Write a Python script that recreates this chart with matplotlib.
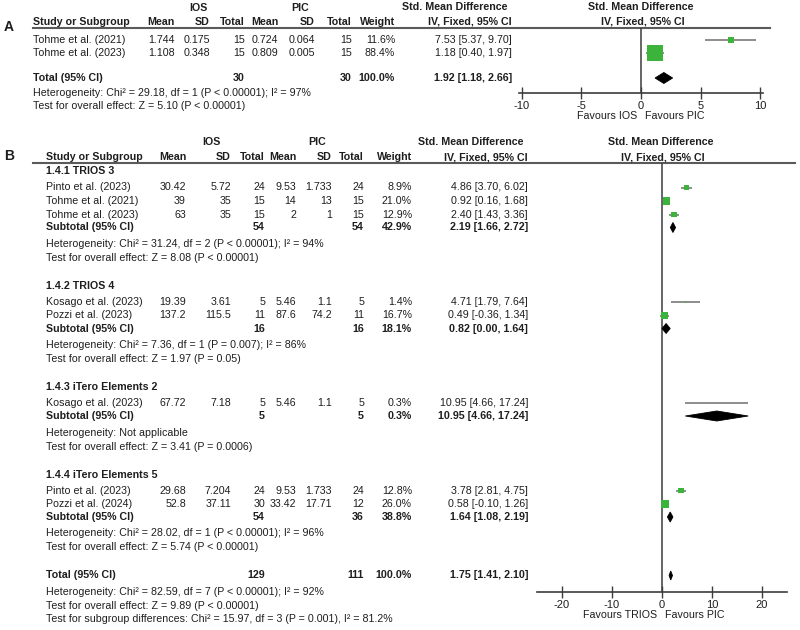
import matplotlib
matplotlib.use("Agg")
import matplotlib.pyplot as plt
from matplotlib.patches import Polygon

plt.rcParams['font.family'] = ['Liberation Sans', 'DejaVu Sans']
plt.rcParams['axes.unicode_minus'] = False

# --- Panel A data ---
a_study = ["Tohme et al. (2021)", "Tohme et al. (2023)"]
a_ios_mean = [1.744, 1.108]
a_ios_sd = [0.175, 0.348]
a_ios_n = [15, 15]
a_pic_mean = [0.724, 0.809]
a_pic_sd = [0.064, 0.005]
a_pic_n = [15, 15]
a_weight = [11.6, 88.4]
a_smd = [7.53, 1.18]
a_lo = [5.37, 0.40]
a_hi = [9.70, 1.97]
a_total_n = [30, 30]
a_total_ci = [1.92, 1.18, 2.66]
a_het = "Heterogeneity: Chi² = 29.18, df = 1 (P < 0.00001); I² = 97%"
a_test = "Test for overall effect: Z = 5.10 (P < 0.00001)"
a_ticks = [-10, -5, 0, 5, 10]
a_favours = ["Favours IOS", "Favours PIC"]

# --- Panel B data ---
b_groups = ["1.4.1 TRIOS 3", "1.4.2 TRIOS 4", "1.4.3 iTero Elements 2", "1.4.4 iTero Elements 5"]
b_study = ["Pinto et al. (2023)", "Tohme et al. (2021)", "Tohme et al. (2023)",
           "Kosago et al. (2023)", "Pozzi et al. (2023)",
           "Kosago et al. (2023)",
           "Pinto et al. (2023)", "Pozzi et al. (2024)"]
b_group_of = [0, 0, 0, 1, 1, 2, 3, 3]
b_ios_mean = [30.42, 39, 63, 19.39, 137.2, 67.72, 29.68, 52.8]
b_ios_sd = [5.72, 35, 35, 3.61, 115.5, 7.18, 7.204, 37.11]
b_ios_n = [24, 15, 15, 5, 11, 5, 24, 30]
b_pic_mean = [9.53, 14, 2, 5.46, 87.6, 5.46, 9.53, 33.42]
b_pic_sd = [1.733, 13, 1, 1.1, 74.2, 1.1, 1.733, 17.71]
b_pic_n = [24, 15, 15, 5, 11, 5, 24, 12]
b_weight = [8.9, 21.0, 12.9, 1.4, 16.7, 0.3, 12.8, 26.0]
b_smd = [4.86, 0.92, 2.40, 4.71, 0.49, 10.95, 3.78, 0.58]
b_lo = [3.70, 0.16, 1.43, 1.79, -0.36, 4.66, 2.81, -0.10]
b_hi = [6.02, 1.68, 3.36, 7.64, 1.34, 17.24, 4.75, 1.26]

sub_ios_n = [54, 16, 5, 54]
sub_pic_n = [54, 16, 5, 36]
sub_weight = [42.9, 18.1, 0.3, 38.8]
sub_smd = [2.19, 0.82, 10.95, 1.64]
sub_lo = [1.66, 0.00, 4.66, 1.08]
sub_hi = [2.72, 1.64, 17.24, 2.19]
sub_het = ["Heterogeneity: Chi² = 31.24, df = 2 (P < 0.00001); I² = 94%",
           "Heterogeneity: Chi² = 7.36, df = 1 (P = 0.007); I² = 86%",
           "Heterogeneity: Not applicable",
           "Heterogeneity: Chi² = 28.02, df = 1 (P < 0.00001); I² = 96%"]
sub_test = ["Test for overall effect: Z = 8.08 (P < 0.00001)",
            "Test for overall effect: Z = 1.97 (P = 0.05)",
            "Test for overall effect: Z = 3.41 (P = 0.0006)",
            "Test for overall effect: Z = 5.74 (P < 0.00001)"]

b_total_n = [129, 111]
b_total_ci = [1.75, 1.41, 2.10]
b_het = "Heterogeneity: Chi² = 82.59, df = 7 (P < 0.00001); I² = 92%"
b_test = "Test for overall effect: Z = 9.89 (P < 0.00001)"
b_subdiff = "Test for subgroup differences: Chi² = 15.97, df = 3 (P = 0.001), I² = 81.2%"
b_ticks = [-20, -10, 0, 10, 20]
b_favours = ["Favours TRIOS", "Favours PIC"]

col_headers = ["Mean", "SD", "Total", "Mean", "SD", "Total", "Weight", "IV, Fixed, 95% CI"]

# --- style ---
TXT = '#1e1e1e'
LINE = '#5a5a5a'
AXC = '#3c3c3c'
CI_C = '#7a7a7a'
GREEN = '#3cb43c'
FS = 7.7

fig = plt.figure(figsize=(8, 6.3), dpi=100)
bg = fig.add_axes([0, 0, 1, 1])
bg.set_xlim(0, 800)
bg.set_ylim(630, 0)
bg.axis('off')


def put(x, y, s, ha='left', bold=False, size=FS):
    bg.text(x, y, s, ha=ha, va='center', fontsize=size, color=TXT,
            fontweight='bold' if bold else 'normal')


def px_axes(left, right, top, bottom):
    return fig.add_axes([left / 800, 1 - bottom / 630, (right - left) / 800, (bottom - top) / 630])


def ci_text(m, lo, hi):
    return f"{m:.2f} [{lo:.2f}, {hi:.2f}]"


def diamond(ax, m, lo, hi, y, h):
    ax.add_patch(Polygon([(lo, y), (m, y - h), (hi, y), (m, y + h)], closed=True,
                         facecolor='black', edgecolor='black', lw=0.6, clip_on=False, zorder=4))


def setup_forest(ax, xlim, ylim, ticks):
    ax.set_xlim(*xlim)
    ax.set_ylim(*ylim)
    ax.set_facecolor('none')
    for side in ['top', 'left', 'right']:
        ax.spines[side].set_visible(False)
    ax.spines['bottom'].set_color(AXC)
    ax.spines['bottom'].set_linewidth(1.2)
    ax.set_yticks([])
    ax.set_xticks(ticks)
    ax.tick_params(axis='x', direction='inout', length=8, width=1, colors=AXC,
                   labelcolor=TXT, labelsize=FS + 0.3, pad=1.5)
    ax.axvline(0, color=AXC, lw=1.1, zorder=1)


# ================= Panel A =================
a_cols = [175, 210, 245, 278, 315, 352, 395, 512]
put(4, 27, "A", bold=True, size=10)
put(198, 8, "IOS", ha='center', bold=True)
put(300, 8, "PIC", ha='center', bold=True)
put(507, 7, "Std. Mean Difference", ha='right', bold=True)
put(641, 7, "Std. Mean Difference", ha='center', bold=True)
put(33, 22, "Study or Subgroup", bold=True)
for x, h in zip(a_cols, col_headers):
    put(x, 22, h, ha='right', bold=True)
put(643, 22, "IV, Fixed, 95% CI", ha='center', bold=True)
bg.plot([33, 770], [28, 28], color=LINE, lw=1.5)

a_rows = [40, 53]
for i, y in enumerate(a_rows):
    vals = [f"{a_ios_mean[i]:g}", f"{a_ios_sd[i]:g}", str(a_ios_n[i]),
            f"{a_pic_mean[i]:g}", f"{a_pic_sd[i]:g}", str(a_pic_n[i]),
            f"{a_weight[i]:.1f}%", ci_text(a_smd[i], a_lo[i], a_hi[i])]
    put(33, y, a_study[i])
    for x, v in zip(a_cols, vals):
        put(x, y, v, ha='right')

a_tot_y = 78
put(33, a_tot_y, "Total (95% CI)", bold=True)
put(a_cols[2], a_tot_y, str(a_total_n[0]), ha='right', bold=True)
put(a_cols[5], a_tot_y, str(a_total_n[1]), ha='right', bold=True)
put(a_cols[6], a_tot_y, "100.0%", ha='right', bold=True)
put(a_cols[7], a_tot_y, ci_text(*a_total_ci), ha='right', bold=True)
put(33, 93, a_het)
put(33, 106, a_test)

axA = px_axes(519, 763, 28, 93)
setup_forest(axA, (-10.25, 10.25), (93, 28), a_ticks)
axA.hlines(a_rows, a_lo, a_hi, color=CI_C, lw=1.2, zorder=2)
axA.scatter(a_smd, a_rows, marker='s', color=GREEN, zorder=3, clip_on=False,
            s=[(1.7 * w ** 0.5 * 0.72) ** 2 for w in a_weight], linewidths=0)
diamond(axA, a_total_ci[0], a_total_ci[1], a_total_ci[2], a_tot_y, 5.5)
put(637, 116, a_favours[0], ha='right')
put(645, 116, a_favours[1], ha='left')

# ================= Panel B =================
b_cols = [186, 231, 265, 296, 332, 364, 412, 528]
put(4, 156, "B", bold=True, size=10)
put(211, 142, "IOS", ha='center', bold=True)
put(317, 142, "PIC", ha='center', bold=True)
put(523, 142, "Std. Mean Difference", ha='right', bold=True)
put(661, 142, "Std. Mean Difference", ha='center', bold=True)
put(46, 157, "Study or Subgroup", bold=True)
for x, h in zip(b_cols, col_headers):
    put(x, 157, h, ha='right', bold=True)
put(663, 157, "IV, Fixed, 95% CI", ha='center', bold=True)
bg.plot([33, 795], [163, 163], color=LINE, lw=1.5)

axB = px_axes(537, 787, 163, 592)
setup_forest(axB, (-25, 25), (592, 163), b_ticks)

y = 171.5
for g, name in enumerate(b_groups):
    put(46, y, name, bold=True)
    idx = [i for i, gg in enumerate(b_group_of) if gg == g]
    y += 16
    rows = []
    for k, i in enumerate(idx):
        if k > 0:
            y += 13.5
        rows.append(y)
        vals = [f"{b_ios_mean[i]:g}", f"{b_ios_sd[i]:g}", str(b_ios_n[i]),
                f"{b_pic_mean[i]:g}", f"{b_pic_sd[i]:g}", str(b_pic_n[i]),
                f"{b_weight[i]:.1f}%", ci_text(b_smd[i], b_lo[i], b_hi[i])]
        put(46, y, b_study[i])
        for x, v in zip(b_cols, vals):
            put(x, y, v, ha='right')
    axB.hlines(rows, [b_lo[i] for i in idx], [b_hi[i] for i in idx], color=CI_C, lw=1.2, zorder=2)
    axB.scatter([b_smd[i] for i in idx], rows, marker='s', color=GREEN, zorder=3, linewidths=0,
                s=[(1.6 * b_weight[i] ** 0.5 * 0.72) ** 2 for i in idx])
    y += 13
    put(46, y, "Subtotal (95% CI)", bold=True)
    put(b_cols[2], y, str(sub_ios_n[g]), ha='right', bold=True)
    put(b_cols[5], y, str(sub_pic_n[g]), ha='right', bold=True)
    put(b_cols[6], y, f"{sub_weight[g]:.1f}%", ha='right', bold=True)
    put(b_cols[7], y, ci_text(sub_smd[g], sub_lo[g], sub_hi[g]), ha='right', bold=True)
    diamond(axB, sub_smd[g], sub_lo[g], sub_hi[g], y, 5)
    y += 16.5
    put(46, y, sub_het[g])
    y += 14
    put(46, y, sub_test[g])
    y += 28

put(46, y, "Total (95% CI)", bold=True)
put(b_cols[2], y, str(b_total_n[0]), ha='right', bold=True)
put(b_cols[5], y, str(b_total_n[1]), ha='right', bold=True)
put(b_cols[6], y, "100.0%", ha='right', bold=True)
put(b_cols[7], y, ci_text(*b_total_ci), ha='right', bold=True)
diamond(axB, b_total_ci[0], b_total_ci[1], b_total_ci[2], y, 4.5)
put(46, y + 16.5, b_het)
put(46, y + 30.5, b_test)
put(46, y + 44, b_subdiff)
put(657, 615, b_favours[0], ha='right')
put(665, 615, b_favours[1], ha='left')

fig.savefig("out.png", dpi=100)
